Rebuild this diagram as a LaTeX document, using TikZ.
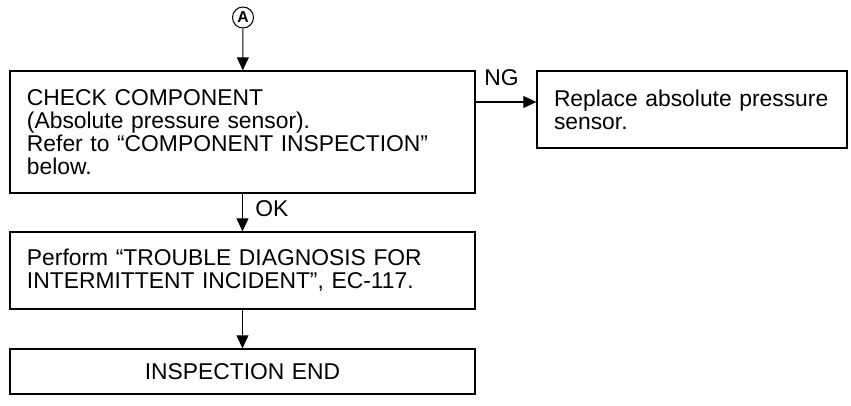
\documentclass[tikz,border=0pt]{standalone}
\usepackage{fontspec}
\setmainfont{Liberation Sans}
\usetikzlibrary{arrows.meta}
\begin{document}
\begin{tikzpicture}
\tikzset{
    >={Triangle[length=7.4pt, width=6.8pt]},
    seta/.style={->, line width=0.6pt},
    caixa/.style={rectangle, draw=black, line width=0.75pt, inner xsep=0.34cm,
                  inner ysep=0pt, align=left,
                  font=\fontsize{13}{13}\selectfont},
    rotulo/.style={font=\fontsize{13}{13}\selectfont, inner sep=0pt},
    marcador/.style={circle, draw=black, line width=0.6pt, inner sep=0pt,
                     minimum size=0.42cm, font=\fontsize{9}{9}\selectfont\bfseries}
}
\useasboundingbox (0,0) rectangle (17.02,8.10);

% Entrada
\node[marcador] (a) at (4.86,7.75) {A};

% Caixas
\node[caixa, text width=8.62cm, minimum height=2.44cm] (chk) at (4.85,5.46)
    {CHECK COMPONENT\\(Absolute pressure sensor).\\Refer to “COMPONENT INSPECTION”\\below.};
\node[caixa, text width=5.52cm, minimum height=1.54cm] (rep) at (13.84,5.91)
    {Replace absolute pressure\\sensor.};
\node[caixa, text width=8.62cm, minimum height=1.54cm] (perf) at (4.85,2.69)
    {Perform “TROUBLE DIAGNOSIS FOR\\INTERMITTENT INCIDENT”, EC-117.};
\node[caixa, text width=8.62cm, minimum height=0.90cm, align=center] (fim) at (4.85,0.67)
    {INSPECTION END};

% Setas
\coordinate (ngy) at (0,6.06);
\draw[seta] (a) -- (chk);
\draw[seta] (chk.east |- ngy) -- (rep.west |- ngy);
\draw[seta] (chk) -- (perf);
\draw[seta] (perf) -- (fim);

% Rótulos
\node[rotulo, anchor=base west] (ng) at (9.68,6.40) {NG};
\node[rotulo, anchor=base west] (ok) at (5.10,3.77) {OK};
\end{tikzpicture}
\end{document}
